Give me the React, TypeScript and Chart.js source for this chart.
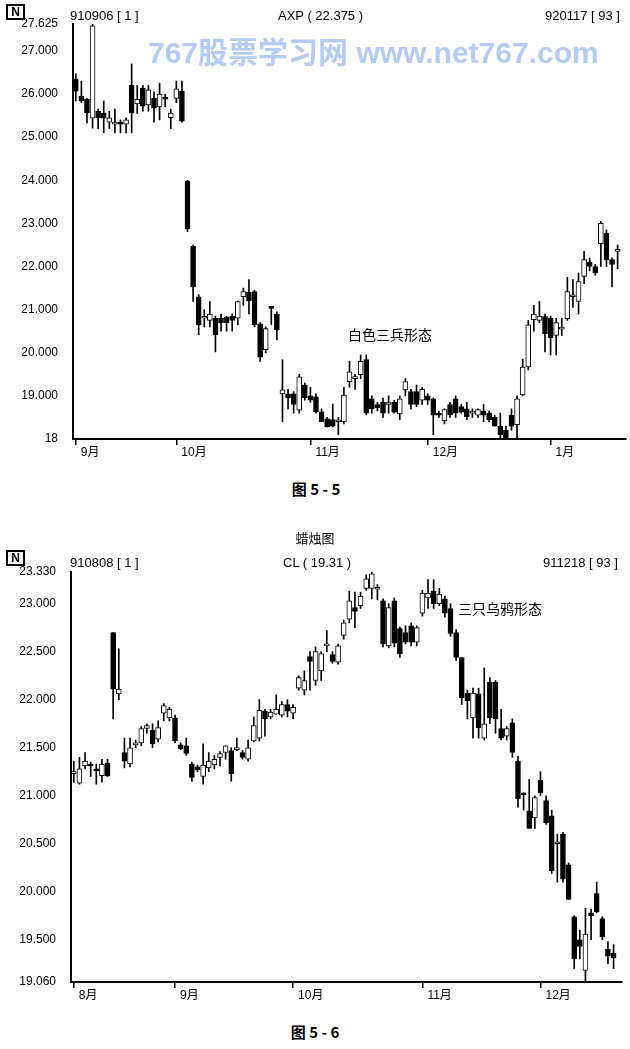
import React, { useEffect, useRef } from 'react';
import { Chart, registerables } from 'chart.js';
Chart.register(...registerables);

// ---------- Top chart: AXP 910906 - 920117 ----------
const axpOpen = [26.35,25.95,25.88,25.44,25.6,25.56,25.35,25.3,25.35,25.3,26.2,25.77,26.14,25.75,25.9,25.7,25.9,25.45,25.9,26.07,
  23.98,22.47,21.3,20.8,20.75,20.8,20.8,20.82,20.85,20.8,21.3,21.4,21.42,20.67,20.07,21.05,20.9,19.05,19.05,19.05,
  18.67,19.25,19.0,18.98,18.63,18.47,18.45,18.4,18.4,19.33,19.4,19.49,19.84,18.93,18.8,18.85,18.8,18.85,18.58,19.14,
  19.1,19.1,18.9,19.0,18.93,18.6,18.42,18.8,18.93,18.75,18.7,18.6,18.55,18.65,18.6,18.5,18.3,18.2,18.55,18.33,
  19.02,19.67,20.77,20.75,20.84,20.8,20.4,20.55,20.79,21.3,21.19,21.77,22.1,22.0,22.53,22.77,22.16,22.35];
const axpHigh = [26.47,26.3,25.9,27.62,25.65,25.84,25.6,25.65,25.4,25.45,26.7,26.2,26.2,26.2,26.05,26.25,26.0,25.65,26.3,26.3,
  24.0,22.5,21.35,21.0,21.19,20.85,20.9,20.85,20.9,21.2,21.5,21.7,21.45,20.7,20.6,21.05,20.95,19.84,19.15,19.1,
  19.5,19.3,19.2,19.05,18.7,18.5,18.81,18.5,19.2,19.8,19.5,19.95,19.95,19.0,18.85,18.95,19.0,18.9,19.0,19.4,
  19.15,19.25,19.2,19.05,18.95,18.65,18.7,18.85,19.0,18.8,18.85,18.7,18.7,18.8,18.65,18.55,18.6,18.3,18.7,19.0,
  19.85,20.75,21.1,21.19,20.9,20.85,20.8,20.8,21.75,21.7,21.85,22.35,22.2,22.05,23.05,22.85,22.2,22.5];
const axpLow = [25.84,25.8,25.33,25.21,25.2,25.1,25.2,25.1,25.1,25.1,25.1,25.55,25.6,25.6,25.35,25.4,25.7,25.2,25.8,25.35,
  22.81,21.19,20.42,20.6,20.6,20.02,20.5,20.5,20.5,20.65,21.1,20.9,20.6,19.8,20.0,20.65,20.3,18.4,18.7,18.6,
  18.6,18.9,18.85,18.6,18.4,18.28,18.28,18.1,18.35,19.2,19.15,19.4,18.56,18.6,18.65,18.5,18.6,18.6,18.45,19.0,
  18.7,18.75,18.8,18.8,18.1,18.5,18.35,18.5,18.5,18.6,18.45,18.5,18.5,18.4,18.4,18.3,18.0,18.0,18.2,18.0,
  19.0,19.6,20.5,20.7,20.02,19.95,19.95,20.4,20.75,21.05,20.9,21.6,21.9,21.8,22.0,22.0,21.53,21.95];
const axpClose = [26.07,25.84,25.56,27.58,25.45,25.44,25.45,25.35,25.3,25.4,25.56,25.88,25.72,26.1,25.67,26.0,25.88,25.56,26.12,25.37,
  22.88,21.53,20.65,20.82,20.9,20.42,20.7,20.7,20.75,21.19,21.42,21.2,20.65,19.9,20.56,21.03,20.53,19.14,18.95,18.8,
  19.44,18.95,18.9,18.63,18.4,18.28,18.3,18.42,19.02,19.56,19.42,19.8,18.6,18.7,18.72,18.6,18.8,18.62,18.93,19.33,
  18.8,18.8,19.15,18.9,18.55,18.55,18.68,18.56,18.6,18.62,18.52,18.6,18.68,18.55,18.45,18.3,18.1,18.02,18.3,18.93,
  19.67,20.65,20.9,20.85,20.44,20.35,20.7,20.55,21.42,21.3,21.65,22.16,22.0,21.85,23.0,22.16,22.05,22.375];
const axpMonthIdx = [0, 18, 42, 63, 85];
const axpMonthLabels = ['9月', '10月', '11月', '12月', '1月'];
const axpYTicks = [18, 19, 20, 21, 22, 23, 24, 25, 26, 27, 27.625];
const axpYTickLabels = ['18', '19.000', '20.000', '21.000', '22.000', '23.000', '24.000', '25.000', '26.000', '27.000', '27.625'];

// ---------- Bottom chart: CL 910808 - 911218 ----------
const clOpen = [21.23,21.13,21.31,21.33,21.27,21.21,21.34,22.7,22.06,21.45,21.33,21.53,21.55,21.7,21.68,21.59,21.86,21.81,21.81,21.53,
  21.52,21.33,21.3,21.2,21.29,21.32,21.4,21.45,21.47,21.48,21.45,21.38,21.57,21.6,21.88,21.82,21.85,21.84,21.95,21.86,
  22.12,22.1,22.45,22.2,22.3,22.56,22.47,22.39,22.67,22.84,22.96,22.98,23.16,23.16,23.15,23.03,22.56,23.03,22.74,22.7,
  22.77,22.6,22.9,23.06,23.13,23.0,23.05,22.95,22.7,22.44,22.07,21.81,22.06,21.6,22.18,22.18,21.7,21.62,21.76,21.36,
  21.02,20.84,20.77,21.16,20.95,20.79,20.5,20.6,20.28,19.74,19.5,19.18,19.78,19.98,19.72,19.4,19.36];
const clHigh = [21.36,21.4,21.45,21.35,21.33,21.38,21.38,22.7,22.53,21.6,21.6,21.58,21.72,21.75,21.75,21.78,21.96,21.92,21.84,21.55,
  21.6,21.35,21.32,21.54,21.45,21.42,21.46,21.52,21.5,21.6,21.47,21.58,21.82,22.0,21.9,21.9,22.05,21.98,22.0,21.95,
  22.25,22.3,22.5,22.55,22.5,22.72,22.5,22.58,22.83,23.13,23.12,23.12,23.3,23.33,23.2,23.05,23.0,23.06,22.76,22.77,
  22.8,22.77,23.14,23.25,23.25,23.16,23.08,23.0,22.73,22.44,22.1,22.12,22.12,22.33,22.23,22.2,21.9,21.72,21.8,21.41,
  21.03,21.17,21.0,21.25,21.0,20.85,20.6,20.62,20.3,19.75,19.6,19.83,19.82,20.1,19.74,19.48,19.45];
const clLow = [21.14,21.12,21.28,21.2,21.12,21.14,21.2,21.8,22.0,21.29,21.3,21.5,21.52,21.65,21.5,21.56,21.78,21.78,21.55,21.48,
  21.42,21.15,21.25,21.12,21.25,21.28,21.31,21.38,21.15,21.47,21.38,21.36,21.56,21.57,21.62,21.8,21.85,21.82,21.82,21.8,
  22.1,22.05,22.1,22.15,22.2,22.5,22.38,22.37,22.63,22.8,22.75,22.95,23.14,23.05,23.04,22.55,22.54,22.55,22.44,22.58,
  22.56,22.56,22.87,22.95,22.95,22.98,22.86,22.66,22.41,21.95,21.8,21.6,21.6,21.58,21.75,21.65,21.58,21.58,21.4,20.88,
  20.85,20.66,20.66,21.0,20.7,20.19,20.1,20.1,19.92,19.2,19.3,19.06,19.5,19.78,19.5,19.25,19.2];
const clClose = [21.25,21.28,21.36,21.31,21.26,21.33,21.21,22.11,22.11,21.36,21.5,21.55,21.7,21.73,21.54,21.71,21.94,21.9,21.57,21.49,
  21.44,21.19,21.27,21.32,21.36,21.38,21.44,21.52,21.23,21.49,21.4,21.5,21.73,21.89,21.8,21.87,21.9,21.95,21.88,21.92,
  22.23,22.2,22.4,22.5,22.48,22.57,22.4,22.56,22.8,23.03,22.92,23.08,23.26,23.31,23.16,22.58,22.96,22.59,22.48,22.6,
  22.6,22.75,23.11,23.11,23.0,23.1,22.9,22.69,22.44,22.02,21.99,22.07,21.71,21.75,21.81,21.8,21.6,21.7,21.45,20.97,
  21.01,20.66,20.98,21.03,20.72,20.22,20.52,20.13,19.92,19.3,19.43,19.56,19.75,19.79,19.53,19.33,19.31];
const clMonthIdx = [0, 18, 39, 62, 83];
const clMonthLabels = ['8月', '9月', '10月', '11月', '12月'];
const clYTicks = [19.06, 19.5, 20, 20.5, 21, 21.5, 22, 22.5, 23, 23.33];
const clYTickLabels = ['19.060', '19.500', '20.000', '20.500', '21.000', '21.500', '22.000', '22.500', '23.000', '23.330'];

const LATIN = "'Liberation Sans', Arial, 'Noto Sans CJK SC', sans-serif";
const CJK = "'Noto Sans CJK SC', 'Liberation Sans', sans-serif";

type CandleProps = {
  open: number[]; high: number[]; low: number[]; close: number[];
  yTicks: number[]; yTickLabels: string[];
  monthIdx: number[]; monthLabels: string[];
  top: number; height: number; padTop: number; padRight: number;
  axisWidth: number; xAxisHeight: number;
};

function CandleChart(p: CandleProps) {
  const ref = useRef<HTMLCanvasElement>(null);
  useEffect(() => {
    const labels = [...p.open.map((_, i) => String(i + 1)), ''];
    const bodies: any[] = p.open.map((o, i) => [Math.min(o, p.close[i]), Math.max(o, p.close[i])]);
    const wicks: any[] = p.low.map((l, i) => [l, p.high[i]]);
    const fills = p.open.map((o, i) => (p.close[i] < o ? '#000' : '#fff'));
    bodies.push(null);
    wicks.push(null);
    const chart = new Chart(ref.current as HTMLCanvasElement, {
      type: 'bar',
      data: {
        labels,
        datasets: [
          { data: bodies, backgroundColor: [...fills, '#fff'], borderColor: '#000', borderWidth: 1, borderSkipped: false, barThickness: 5, minBarLength: 2, grouped: false } as any,
          { data: wicks, backgroundColor: '#000', borderWidth: 0, barThickness: 1, grouped: false } as any,
        ],
      },
      options: {
        responsive: false,
        animation: false,
        devicePixelRatio: 1,
        layout: { padding: { top: p.padTop, right: p.padRight, left: 0, bottom: 0 } },
        plugins: { legend: { display: false }, tooltip: { enabled: false } },
        scales: {
          x: {
            type: 'category',
            offset: true,
            grid: {
              display: true, drawOnChartArea: false, drawTicks: true, tickLength: 6, offset: false, lineWidth: 1.5,
              color: (ctx: any) => (p.monthIdx.includes(ctx.index) ? '#000' : 'rgba(0,0,0,0)'),
            },
            border: { display: true, color: '#000', width: 2 },
            ticks: {
              autoSkip: false, maxRotation: 0, minRotation: 0, align: 'start', labelOffset: 5, padding: 0,
              color: '#000', font: { family: LATIN, size: 12 },
              callback: (_v: any, i: number) => {
                const k = p.monthIdx.indexOf(i);
                return k >= 0 ? p.monthLabels[k] : '';
              },
            },
            afterFit: (s: any) => { s.height = p.xAxisHeight; },
          } as any,
          y: {
            min: p.yTicks[0],
            max: p.yTicks[p.yTicks.length - 1],
            afterBuildTicks: (s: any) => { s.ticks = p.yTicks.map((v) => ({ value: v })); },
            afterFit: (s: any) => { s.width = p.axisWidth; },
            grid: { display: true, drawOnChartArea: false, drawTicks: false },
            border: { display: true, color: '#000', width: 2 },
            ticks: {
              padding: 15, color: '#000', font: { family: LATIN, size: 12 },
              callback: (v: any) => {
                const k = p.yTicks.indexOf(Number(v));
                return k >= 0 ? p.yTickLabels[k] : '';
              },
            },
          } as any,
        },
      },
    });
    return () => chart.destroy();
  }, []);
  return <canvas ref={ref} width={630} height={p.height} style={{ position: 'absolute', left: 0, top: p.top }} />;
}

const txt = (left: number, top: number, size: number, family: string, extra: any = {}) => ({
  position: 'absolute' as const, left, top, fontSize: size, fontFamily: family, lineHeight: 1, whiteSpace: 'nowrap' as const, color: '#000', ...extra,
});

function Logo({ top }: { top: number }) {
  return (
    <div style={{ position: 'absolute', left: 6, top, width: 15, height: 12, border: '2px solid #000', fontFamily: LATIN, fontWeight: 'bold', fontSize: 12, lineHeight: '12px', textAlign: 'center', boxSizing: 'content-box' }}>N</div>
  );
}

export default function App() {
  return (
    <div style={{ position: 'absolute', left: 0, top: 0, width: 630, height: 1049, background: '#fff', overflow: 'hidden' }}>
      <CandleChart open={axpOpen} high={axpHigh} low={axpLow} close={axpClose}
        yTicks={axpYTicks} yTickLabels={axpYTickLabels} monthIdx={axpMonthIdx} monthLabels={axpMonthLabels}
        top={0} height={470} padTop={24} padRight={4} axisWidth={73} xAxisHeight={31} />
      <CandleChart open={clOpen} high={clHigh} low={clLow} close={clClose}
        yTicks={clYTicks} yTickLabels={clYTickLabels} monthIdx={clMonthIdx} monthLabels={clMonthLabels}
        top={540} height={480} padTop={32} padRight={8} axisWidth={71} xAxisHeight={38} />

      <div style={txt(148, 38, 30, LATIN, { color: '#b3cbf5', fontWeight: 'bold' })}>767股票学习网 www.net767.com</div>

      <Logo top={4} />
      <div style={txt(70, 9, 13, LATIN)}>910906 [ 1 ]</div>
      <div style={txt(278, 9, 13, LATIN)}>AXP ( 22.375 )</div>
      <div style={txt(545, 9, 13, LATIN)}>920117 [ 93 ]</div>
      <div style={txt(348, 327, 14, CJK)}>白色三兵形态</div>
      <div style={txt(216, 481, 15, CJK, { width: 200, textAlign: 'center', fontWeight: 'bold' })}>图 5 - 5</div>

      <div style={txt(215, 531, 13, CJK, { width: 200, textAlign: 'center' })}>蜡烛图</div>
      <Logo top={550} />
      <div style={txt(70, 556, 13, LATIN)}>910808 [ 1 ]</div>
      <div style={txt(283, 556, 13, LATIN)}>CL ( 19.31 )</div>
      <div style={txt(543, 556, 13, LATIN)}>911218 [ 93 ]</div>
      <div style={txt(458, 601, 14, CJK)}>三只乌鸦形态</div>
      <div style={txt(215, 1024, 15, CJK, { width: 200, textAlign: 'center', fontWeight: 'bold' })}>图 5 - 6</div>
    </div>
  );
}
